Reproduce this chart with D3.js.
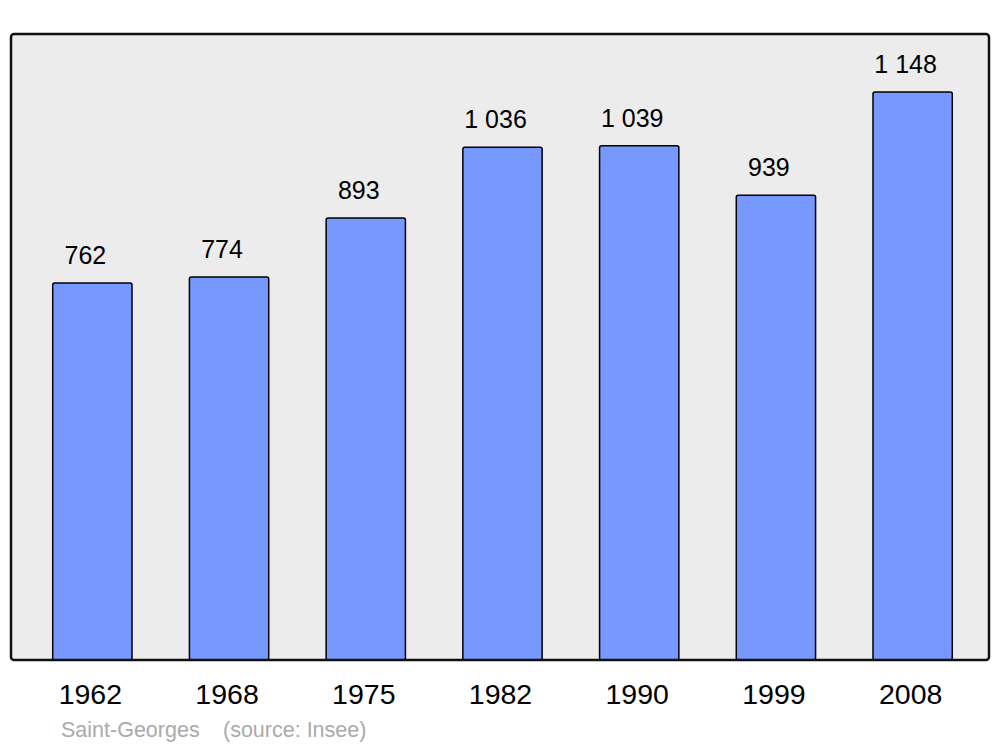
<!DOCTYPE html>
<html>
<head>
<meta charset="utf-8">
<script src="https://cdn.jsdelivr.net/npm/d3@7"></script>
<style>
    body { margin: 0; background: #fff; }
    svg { display: block; font-family: "Liberation Sans", Arial, sans-serif; }
</style>
</head>
<body>
<div class="graphique"></div>
<script>
const years = ["1962", "1968", "1975", "1982", "1990", "1999", "2008"];
const population = [762, 774, 893, 1036, 1039, 939, 1148];
const valueLabels = ["762", "774", "893", "1 036", "1 039", "939", "1 148"];
const commune = "Saint-Georges";
const source = "(source: Insee)";

const width = 1000;
const height = 747;
const panel = { left: 11, top: 34, right: 989, bottom: 660 };

const svg = d3.select(".graphique")
    .append("svg")
    .attr("width", width)
    .attr("height", height);

svg.append("rect")
    .attr("x", panel.left)
    .attr("y", panel.top)
    .attr("width", panel.right - panel.left)
    .attr("height", panel.bottom - panel.top)
    .attr("rx", 3)
    .attr("fill", "#ececec");

const xScale = d3.scaleBand()
    .domain(years)
    .range([24, 981])
    .paddingInner(0.42)
    .paddingOuter(0.21);

const yScale = d3.scaleLinear().domain([0, 1265]).range([panel.bottom, panel.top]);

svg.selectAll(".bar")
    .data(population)
    .enter().append("rect")
    .attr("class", "bar")
    .attr("x", (d, i) => xScale(years[i]))
    .attr("y", d => yScale(d))
    .attr("width", xScale.bandwidth())
    .attr("height", d => panel.bottom - yScale(d))
    .attr("rx", 2)
    .attr("fill", "#7799ff")
    .attr("stroke", "#000")
    .attr("stroke-width", 1.5);

// border on top so the bar bottoms tuck under it
svg.append("rect")
    .attr("x", panel.left)
    .attr("y", panel.top)
    .attr("width", panel.right - panel.left)
    .attr("height", panel.bottom - panel.top)
    .attr("rx", 3)
    .attr("fill", "none")
    .attr("stroke", "#111")
    .attr("stroke-width", 2.5);

svg.selectAll(".value")
    .data(population)
    .enter().append("text")
    .attr("class", "value")
    .attr("x", (d, i) => xScale(years[i]) + xScale.bandwidth() / 2 - 7)
    .attr("y", d => yScale(d) - 19)
    .attr("text-anchor", "middle")
    .attr("font-size", 25)
    .attr("fill", "#000")
    .text((d, i) => valueLabels[i]);

svg.selectAll(".year")
    .data(years)
    .enter().append("text")
    .attr("class", "year")
    .attr("x", d => xScale(d) + xScale.bandwidth() / 2 - 2)
    .attr("y", 704)
    .attr("text-anchor", "middle")
    .attr("font-size", 28.5)
    .attr("fill", "#000")
    .text(d => d);

svg.append("text")
    .attr("x", 61)
    .attr("y", 737)
    .attr("font-size", 21.5)
    .attr("fill", "#aaaaaa")
    .text(commune);

svg.append("text")
    .attr("x", 223)
    .attr("y", 737)
    .attr("font-size", 21.5)
    .attr("fill", "#aaaaaa")
    .text(source);
</script>
</body>
</html>
